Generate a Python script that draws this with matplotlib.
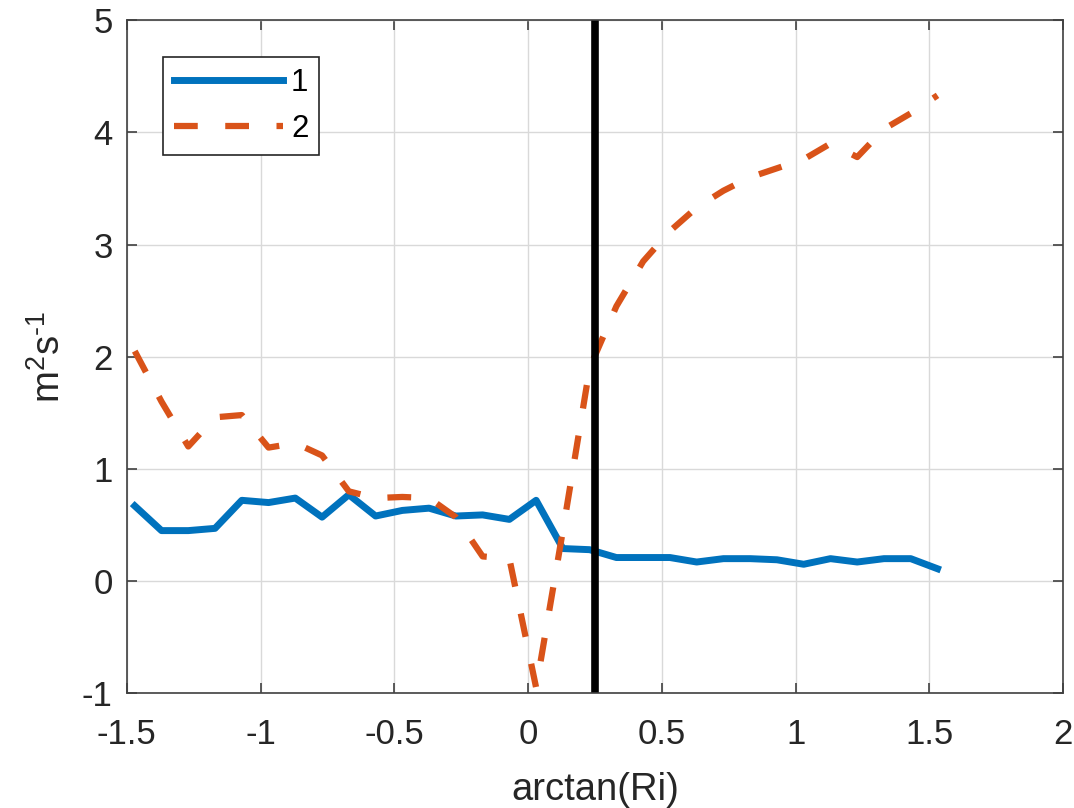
import matplotlib
matplotlib.use("Agg")
import matplotlib.pyplot as plt

plt.rcParams['font.family'] = ['Liberation Sans', 'DejaVu Sans']
plt.rcParams['mathtext.fontset'] = 'custom'
plt.rcParams['mathtext.rm'] = 'Liberation Sans'
plt.rcParams['mathtext.it'] = 'Liberation Sans'
plt.rcParams['axes.unicode_minus'] = False

# bin centres in arctan(Ri)
ri = [-1.47, -1.37, -1.27, -1.17, -1.07, -0.97, -0.87, -0.77, -0.67, -0.57,
      -0.47, -0.37, -0.27, -0.17, -0.07, 0.03, 0.13, 0.23, 0.33, 0.43,
      0.53, 0.63, 0.73, 0.83, 0.93, 1.03, 1.13, 1.23, 1.33, 1.43, 1.53]

k1 = [0.67, 0.45, 0.45, 0.47, 0.72, 0.70, 0.74, 0.57, 0.77, 0.58,
      0.63, 0.65, 0.58, 0.59, 0.55, 0.72, 0.29, 0.28, 0.21, 0.21,
      0.21, 0.17, 0.20, 0.20, 0.19, 0.15, 0.20, 0.17, 0.20, 0.20, 0.11]

k2 = [2.05, 1.60, 1.20, 1.46, 1.48, 1.19, 1.23, 1.12, 0.80, 0.74,
      0.75, 0.74, 0.57, 0.22, 0.20, -0.95, 0.45, 1.90, 2.45, 2.85,
      3.12, 3.33, 3.48, 3.60, 3.68, 3.76, 3.90, 3.78, 4.03, 4.17, 4.33]

ri_crit = 0.25
labels = ['1', '2']

fig = plt.figure(figsize=(10.74, 8.08), dpi=100)
ax = fig.add_axes([0.118, 0.142, 0.872, 0.833])

ax.plot(ri, k1, color='#0072BD', lw=5, label=labels[0])
ax.plot(ri, k2, color='#D95319', lw=4.5, ls=(0, (3.8, 4.4)), label=labels[1])
ax.axvline(ri_crit, color='black', lw=5.5)

ax.set_xlim(-1.5, 2)
ax.set_ylim(-1, 5)
ax.set_xticks([-1.5, -1, -0.5, 0, 0.5, 1, 1.5, 2])
ax.set_xticklabels(['-1.5', '-1', '-0.5', '0', '0.5', '1', '1.5', '2'])
ax.set_yticks([-1, 0, 1, 2, 3, 4, 5])
ax.set_yticklabels(['-1', '0', '1', '2', '3', '4', '5'])

ax.grid(True, color='#d9d9d9', lw=1)
ax.set_axisbelow(True)
for s in ax.spines.values():
    s.set_color('#404040')
    s.set_linewidth(1.2)
ax.tick_params(direction='in', length=7, width=1.2, colors='#404040',
               labelcolor='#262626', labelsize=25, top=True, right=True)
ax.tick_params(axis='x', pad=18)
ax.tick_params(axis='y', pad=10)

ax.set_xlabel('arctan(Ri)', fontsize=27.5, color='#262626', labelpad=15)
ax.set_ylabel(r'm$^2$s$^{\text{-}1}$', fontsize=27.5, color='#262626', labelpad=10)

leg = ax.legend(loc='upper left', bbox_to_anchor=(0.0385, 0.945), fontsize=22.5,
                borderaxespad=0, handlelength=3.5, handletextpad=0.25,
                borderpad=0.35, labelspacing=0.5, fancybox=False, framealpha=1)
leg.get_frame().set_edgecolor('#262626')
leg.get_frame().set_linewidth(1.2)

fig.savefig('out.png', dpi=100)
